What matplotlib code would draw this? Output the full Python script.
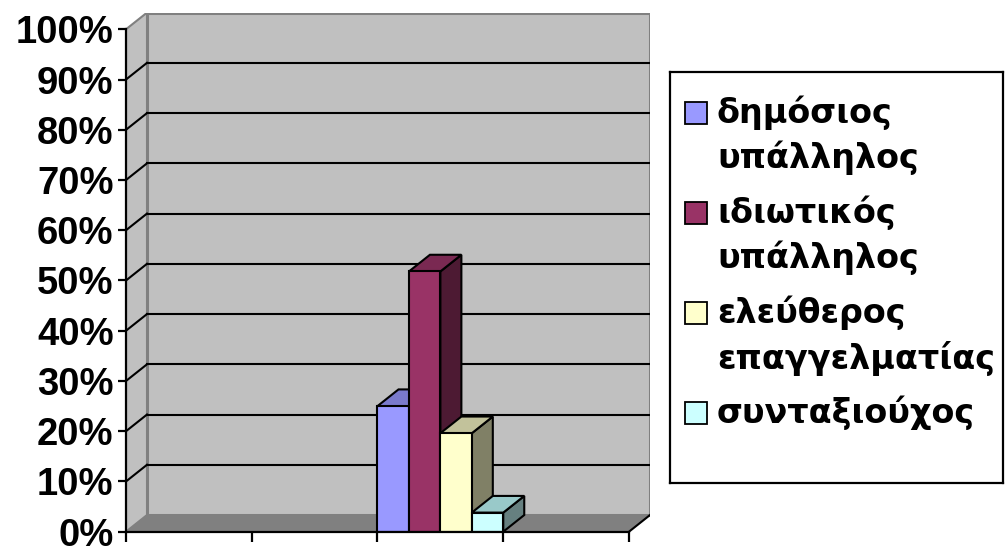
import matplotlib
matplotlib.use("Agg")
import matplotlib.pyplot as plt
from matplotlib.patches import Polygon, Rectangle

# series shown in the one filled category slot (of four)
series = ["δημόσιος\nυπάλληλος", "ιδιωτικός\nυπάλληλος",
          "ελεύθερος\nεπαγγελματίας", "συνταξιούχος"]
values = [25.0, 51.8, 19.6, 3.8]
front = ["#9999ff", "#993366", "#ffffcc", "#ccffff"]
top = ["#7a7acc", "#7a2952", "#c2c29b", "#99c9c9"]
side = ["#5c5c99", "#4d1a33", "#808066", "#668080"]
n_cat = 4
cat_index = 2
yticks = list(range(0, 101, 10))
ylabels = [f"{t}%" for t in yticks]

# depth of the fake 3D box, in data units
dx, dy = 0.167, 3.32
wall = "#c0c0c0"
edge = "#808080"

fig = plt.figure(figsize=(10.08, 5.49), dpi=100)
ax = fig.add_axes([126 / 1008, 1 - 531.7 / 549, 524 / 1008, 519.1 / 549])
ax.set_xlim(0, n_cat + dx)
ax.set_ylim(0, 100 + dy)
ax.patch.set_visible(False)

# walls and floor
ax.add_patch(Rectangle((dx, dy), n_cat, 100, fc=wall, ec=edge, lw=2.2, zorder=0))
ax.add_patch(Polygon([(0, 0), (dx, dy), (dx, 100 + dy), (0, 100)],
                     closed=True, fc=wall, ec=edge, lw=1.5, zorder=0))
ax.add_patch(Polygon([(0, 0), (n_cat, 0), (n_cat + dx, dy), (dx, dy)],
                     closed=True, fc=edge, ec="none", zorder=0.5))
ax.plot([n_cat, n_cat + dx], [0, dy], color="black", lw=1.5, zorder=0.6)

# gridlines on the back wall and the side wall
for t in yticks[1:-1]:
    ax.plot([dx, n_cat + dx], [t + dy, t + dy], color="black", lw=1.5, zorder=1)
    ax.plot([0, dx], [t, t + dy], color="black", lw=1.5, zorder=1)

# bars
w = 1.0 / len(values)
for i, v in enumerate(values):
    x = cat_index + i * w
    z = 3 + i
    ax.add_patch(Polygon([(x + w, 0), (x + w + dx, dy), (x + w + dx, v + dy), (x + w, v)],
                         closed=True, fc=side[i], ec="black", lw=1.5, zorder=z))
    ax.add_patch(Polygon([(x, v), (x + w, v), (x + w + dx, v + dy), (x + dx, v + dy)],
                         closed=True, fc=top[i], ec="black", lw=1.5, zorder=z))
    ax.bar(x, v, width=w, align="edge", color=front[i], edgecolor="black",
           lw=1.5, zorder=z)

for s in ["top", "right"]:
    ax.spines[s].set_visible(False)
ax.spines["left"].set_bounds(0, 100)
ax.spines["bottom"].set_bounds(0, n_cat)
for s in ["left", "bottom"]:
    ax.spines[s].set_linewidth(1.6)
    ax.spines[s].set_zorder(10)

ax.set_yticks(yticks)
ax.set_yticklabels(ylabels, fontfamily="Liberation Sans", fontweight="bold", fontsize=27.5)
ax.set_xticks(range(n_cat + 1))
ax.set_xticklabels([])
ax.tick_params(axis="y", direction="out", length=6, width=1.6, pad=3)
ax.tick_params(axis="x", direction="out", length=7.5, width=1.6)

# legend box
lg = fig.add_axes([670 / 1008, 1 - 483 / 549, 333 / 1008, 411 / 549])
lg.set_xlim(0, 333)
lg.set_ylim(411, 0)
lg.set_xticks([])
lg.set_yticks([])
for s in lg.spines.values():
    s.set_linewidth(1.6)

y = 41
for i, name in enumerate(series):
    lg.add_patch(Rectangle((15, y - 11), 22, 22, fc=front[i], ec="black", lw=1.3))
    for j, line in enumerate(name.split("\n")):
        lg.text(47, y + j * 45, line, fontfamily="DejaVu Sans", fontweight="bold",
                fontsize=24, va="center", ha="left")
    y += 100

fig.savefig("out.png", dpi=100)
